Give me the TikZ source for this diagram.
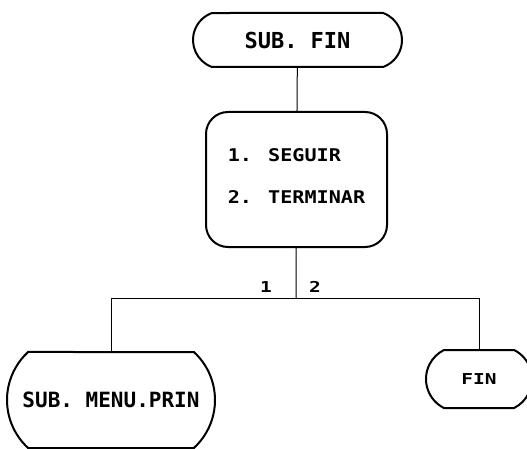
\documentclass[tikz,border=0pt]{standalone}
\usepackage{fontspec}
\newfontfamily\pixfont{DejaVu Sans Mono}
\newfontfamily\pixmid{DejaVu Sans Mono}[FakeStretch=1.15]
\newfontfamily\pixwide{DejaVu Sans Mono}[FakeStretch=1.3]
\usepackage{tikz}
\usetikzlibrary{
  positioning,
  shapes.misc
}

\begin{document}
\begin{tikzpicture}[x=1pt, y=-1pt,
  term/.style={draw, line width=2pt, rounded rectangle, inner sep=0pt},
  menubox/.style={draw, line width=2pt, rounded corners=22pt, inner sep=0pt,
    align=left},
  link/.style={line width=1pt}]
  \useasboundingbox (0,0) rectangle (527,449);

  % inicio de la subrutina
  \node[term, rounded rectangle arc length=140, minimum width=209pt,
    minimum height=54pt, font=\pixfont\bfseries\fontsize{22}{24}\selectfont]
    (subfin) at (297.5,40) {SUB. FIN};
  % menu de opciones
  \node[menubox, minimum width=181pt, minimum height=135pt,
    font=\pixmid\bfseries\fontsize{17.5}{39}\selectfont]
    (opciones) at (296.5,179.5) {\raisebox{3pt}{1. SEGUIR}\\2. TERMINAR\vspace{6pt}};
  % salidas
  \node[term, rounded rectangle arc length=95, minimum width=208pt,
    minimum height=96pt, font=\pixfont\bfseries\fontsize{21}{24}\selectfont]
    (menuprin) at (111,400) {SUB. MENU.PRIN};
  \node[term, rounded rectangle arc length=127, minimum width=106pt,
    minimum height=58pt, font=\pixwide\bfseries\fontsize{15}{17}\selectfont]
    (fin) at (479,379) {FIN};

  % conexiones
  \coordinate (rama) at (296,298);
  \draw[link] (subfin) -- (opciones);
  \draw[link] (opciones) -- (rama);
  \draw[link] (rama) -| (menuprin.north);
  \draw[link] (rama) -| (fin.north);
  \node[font=\pixwide\bfseries\fontsize{15}{17}\selectfont] (op1) at (266,287) {1};
  \node[font=\pixwide\bfseries\fontsize{15}{17}\selectfont] (op2) at (315,287) {2};
\end{tikzpicture}
\end{document}
